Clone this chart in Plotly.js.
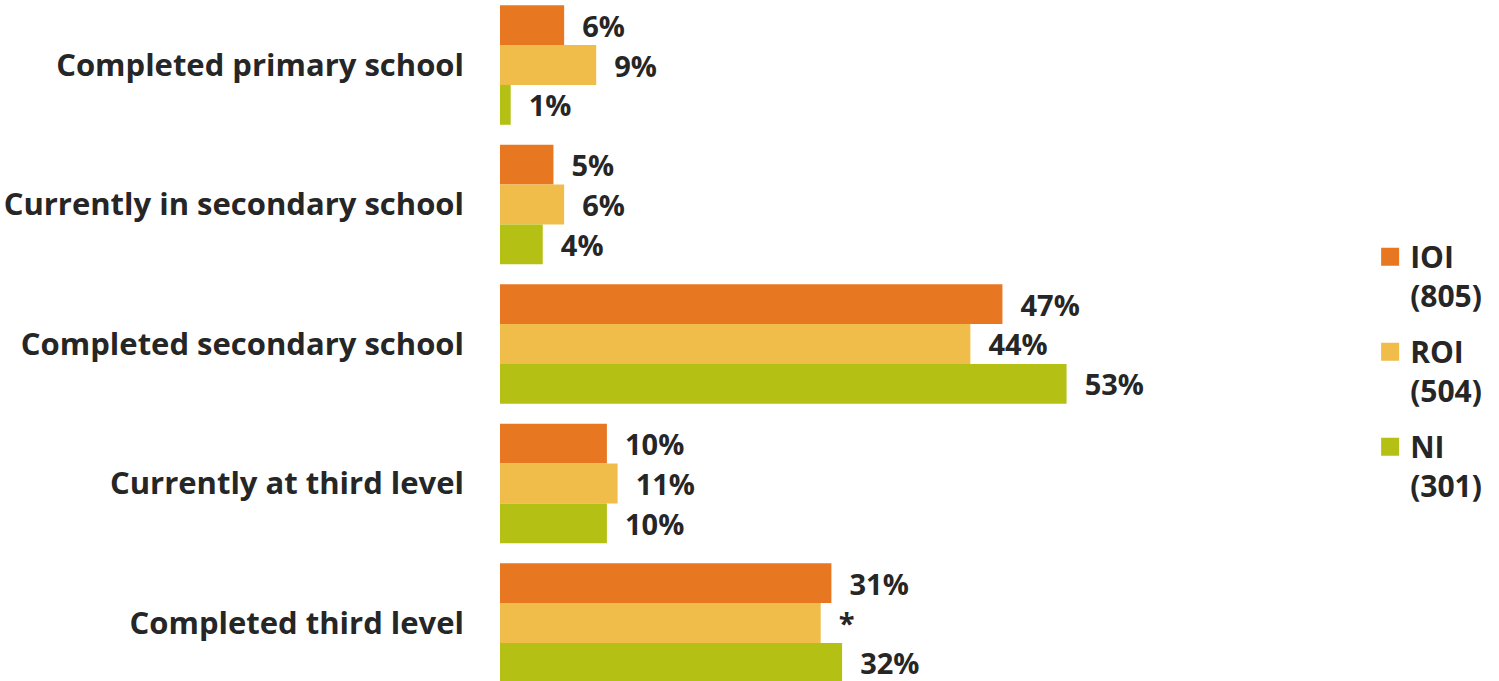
<!DOCTYPE html>
<html><head><meta charset="utf-8">
<script src="https://cdn.plot.ly/plotly-3.0.1.min.js"></script>
<style>html,body{margin:0;padding:0;background:#fff;}#chart{width:1499px;height:681px;}</style>
</head><body><div id="chart"></div>
<script>
const categories = ["Completed primary school","Currently in secondary school","Completed secondary school","Currently at third level","Completed third level"];
const seriesNames = ["IOI<br>(805)","ROI<br>(504)","NI<br>(301)"];
const ioi = [6,5,47,10,31];
const roi = [9,6,44,11,30];
const ni  = [1,4,53,10,32];
const ioiLabels = ["6%","5%","47%","10%","31%"];
const roiLabels = ["9%","6%","44%","11%","*"];
const niLabels  = ["1%","4%","53%","10%","32%"];
const colors = ["#E87722","#F0BD4A","#B5C014"];

const font = {family:"Open Sans, sans-serif", size:31, color:"#262626", weight:"bold"};
const legFont = {family:"Open Sans, sans-serif", size:30, color:"#262626", weight:"bold"};
const valFont = {family:"Open Sans, sans-serif", size:29, color:"#262626", weight:"bold"};
function mk(vals, labels, i){
  return {type:"bar", orientation:"h", y:categories, x:vals, name:seriesNames[i],
    marker:{color:colors[i]}, text:labels.map(s=>"  "+s), textposition:"outside",
    textfont:valFont, cliponaxis:false, hoverinfo:"skip", showlegend:false};
}
function leg(i){
  return {type:"scatter", mode:"markers", x:[null], y:[null], name:seriesNames[i],
    legendgroup:"g"+i, marker:{symbol:"square", size:16, color:colors[i], line:{width:2,color:colors[i]}},
    hoverinfo:"skip"};
}
const data=[mk(ioi,ioiLabels,0),mk(roi,roiLabels,1),mk(ni,niLabels,2),leg(0),leg(1),leg(2)];
const layout={
  width:1499,height:681,margin:{l:500,r:0,t:0,b:0},
  paper_bgcolor:"#fff",plot_bgcolor:"#fff",
  barmode:"group",bargap:0.143,bargroupgap:0,
  xaxis:{range:[0,93.45],showgrid:false,zeroline:false,showticklabels:false,showline:false,ticks:""},
  yaxis:{type:"category",range:[4.416,-0.466],showgrid:false,zeroline:false,showline:false,ticks:"",
    tickfont:font,ticklabelstandoff:35},
  showlegend:true,
  legend:{x:0.871,y:0.455,xanchor:"left",yanchor:"middle",font:legFont,traceorder:"grouped",valign:"top",
    itemwidth:30,tracegroupgap:14,bgcolor:"rgba(0,0,0,0)"},
  font:font
};
Plotly.newPlot("chart",data,layout,{displayModeBar:false,staticPlot:true});
</script></body></html>
